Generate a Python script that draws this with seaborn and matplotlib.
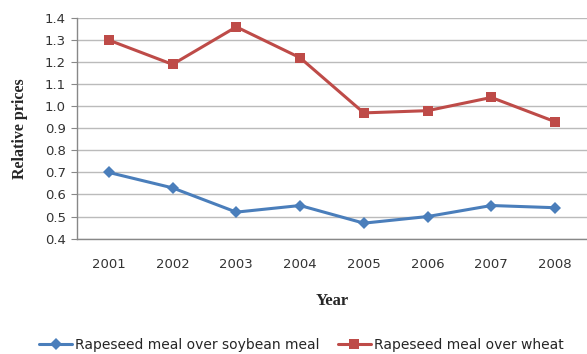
import numpy as np
import pandas as pd
import matplotlib
matplotlib.use('Agg')
import matplotlib.pyplot as plt
import seaborn as sns

years = ['2001', '2002', '2003', '2004', '2005', '2006', '2007', '2008']
soy = [0.70, 0.63, 0.52, 0.55, 0.47, 0.50, 0.55, 0.54]
wheat = [1.30, 1.19, 1.36, 1.22, 0.97, 0.98, 1.04, 0.93]
names = ['Rapeseed meal over soybean meal', 'Rapeseed meal over wheat']

df = pd.DataFrame({
    'x': list(range(len(years))) * 2,
    'value': soy + wheat,
    'series': [names[0]] * len(years) + [names[1]] * len(years),
})

sns.set_style('white')

fig = plt.figure(figsize=(5.87, 3.54), dpi=100)
ax = fig.add_axes([0.131, 0.326, 0.869, 0.623])

sns.lineplot(data=df, x='x', y='value', hue='series', style='series',
             markers={names[0]: 'D', names[1]: 's'}, dashes=False,
             palette={names[0]: '#4A7EBB', names[1]: '#BE4B48'},
             linewidth=2.2, markersize=7, markeredgewidth=0, ax=ax)
# blue diamonds a bit smaller
for line in ax.lines:
    if line.get_marker() == 'D':
        line.set_markersize(6)

ax.set_xlim(-0.5, len(years) - 0.5)
ax.set_ylim(0.4, 1.4)
ticks = np.arange(0.4, 1.41, 0.1)
ax.set_yticks(ticks)
ax.set_yticklabels(['%.1f' % v for v in ticks], fontsize=9.5, color='#333333')
ax.set_xticks(range(len(years)))
ax.set_xticklabels(years, fontsize=9.5, color='#333333')
ax.set_xticks(np.arange(-0.5, len(years)), minor=True)
ax.tick_params(axis='x', which='major', length=0, pad=14)
ax.tick_params(axis='x', which='minor', length=4, color='#888888', direction='out')
ax.tick_params(axis='y', length=4, color='#888888', direction='out', left=True, pad=4)
ax.yaxis.grid(True, color='#BBBBBB', linewidth=1)
ax.set_axisbelow(True)
for s in ['top', 'right']:
    ax.spines[s].set_visible(False)
for s in ['left', 'bottom']:
    ax.spines[s].set_color('#888888')
    ax.spines[s].set_linewidth(1)

ax.set_xlabel('Year', fontsize=12, fontweight='bold', family='Liberation Serif')
ax.set_ylabel('Relative prices', fontsize=11.5, fontweight='bold', family='Liberation Serif')
ax.xaxis.set_label_coords(0.5, -0.245)
ax.yaxis.set_label_coords(-0.095, 0.5)

handles, labels = ax.get_legend_handles_labels()
ax.legend(handles, labels, loc='center', bbox_to_anchor=(0.44, -0.482), ncol=2,
          frameon=False, fontsize=10, handlelength=2.4, columnspacing=1.3, handletextpad=0.2)

fig.savefig('out.png', dpi=100)
